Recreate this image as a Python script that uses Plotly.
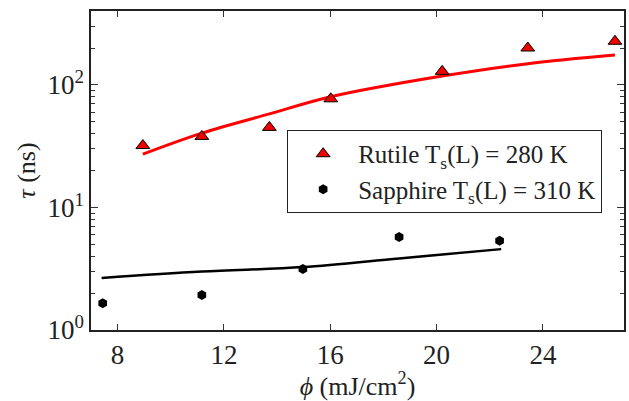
import plotly.graph_objects as go

# Data
rutile_x = [8.95, 11.17, 13.71, 16.02, 20.21, 23.43, 26.71]
rutile_y = [32, 38, 45, 77, 129, 200, 227]
rutile_fit_x = [8.95, 11.17, 13.71, 16.02, 20.21, 23.43, 26.71]
rutile_fit_y = [27.2, 40.4, 58.0, 80.0, 118.0, 149.0, 175.0]

sapph_x = [7.44, 11.17, 14.97, 18.59, 22.37]
sapph_y = [1.65, 1.93, 3.14, 5.73, 5.34]
sapph_fit_x = [7.4, 11.17, 14.97, 18.59, 22.43]
sapph_fit_y = [2.66, 3.0, 3.26, 3.84, 4.57]

ytick_vals = [1, 10, 100]
ytick_text = ["10<sup>0</sup>", "10<sup>1</sup>", "10<sup>2</sup>"]
xtick_vals = [8, 12, 16, 20, 24]

FONT = "Liberation Serif"

fig = go.Figure()
fig.add_trace(go.Scatter(x=rutile_fit_x, y=rutile_fit_y, mode="lines",
                         line=dict(color="#ff0000", width=3, shape="spline"),
                         showlegend=False, hoverinfo="skip"))
fig.add_trace(go.Scatter(x=sapph_fit_x, y=sapph_fit_y, mode="lines",
                         line=dict(color="black", width=2.5, shape="spline"),
                         showlegend=False, hoverinfo="skip"))
fig.add_trace(go.Scatter(x=rutile_x, y=rutile_y, mode="markers",
                         name="Rutile T<sub>s</sub>(L) = 280 K",
                         marker=dict(symbol="triangle-up", size=12, color="#ee0000",
                                     line=dict(color="black", width=1))))
fig.add_trace(go.Scatter(x=sapph_x, y=sapph_y, mode="markers",
                         name="Sapphire T<sub>s</sub>(L) = 310 K",
                         marker=dict(symbol="hexagon", size=10, color="black",
                                     line=dict(color="black", width=0))))

minor_y = [v * m for m in (1, 10, 100) for v in range(2, 10)]
minor_y = [v for v in minor_y if v < 400.5]

fig.update_layout(
    width=629, height=401,
    margin=dict(l=91, r=5, t=11, b=71),
    paper_bgcolor="white", plot_bgcolor="white",
    font=dict(family=FONT, color="#222222", size=24),
    showlegend=True,
    legend=dict(x=0.368, y=0.627, xanchor="left", yanchor="top",
                bgcolor="white", bordercolor="#222222", borderwidth=1,
                font=dict(size=25, family=FONT), itemwidth=60,
                tracegroupgap=0),
    xaxis=dict(range=[7, 27.05], tickvals=xtick_vals, ticks="inside",
               ticklen=6, tickwidth=1, tickcolor="#333333", automargin=False,
               showline=True, linecolor="#222222", linewidth=1.5,
               mirror="ticks", showgrid=False, zeroline=False,
               tickfont=dict(size=27, family=FONT),
               title=dict(text="<i>ϕ</i> (mJ/cm<sup>2</sup>)", font=dict(size=26, family=FONT),
                          standoff=0)),
    yaxis=dict(type="log", range=[0, 2.603], tickvals=ytick_vals, ticktext=ytick_text,
               ticks="inside", ticklen=7, tickwidth=1, tickcolor="#333333", automargin=False,
               minor=dict(tickvals=minor_y, ticks="inside", ticklen=4, tickcolor="#333333",
                          tickwidth=1),
               showline=True, linecolor="#222222", linewidth=1.5,
               mirror="ticks", showgrid=False, zeroline=False,
               tickfont=dict(size=27, family=FONT),
               title=dict(text="<i>τ</i> (ns)", font=dict(size=26, family=FONT),
                          standoff=4)),
)

fig.write_html("out.html", config={"displayModeBar": False},
               post_script="document.body.style.margin='0px';document.body.style.overflow='hidden';")
